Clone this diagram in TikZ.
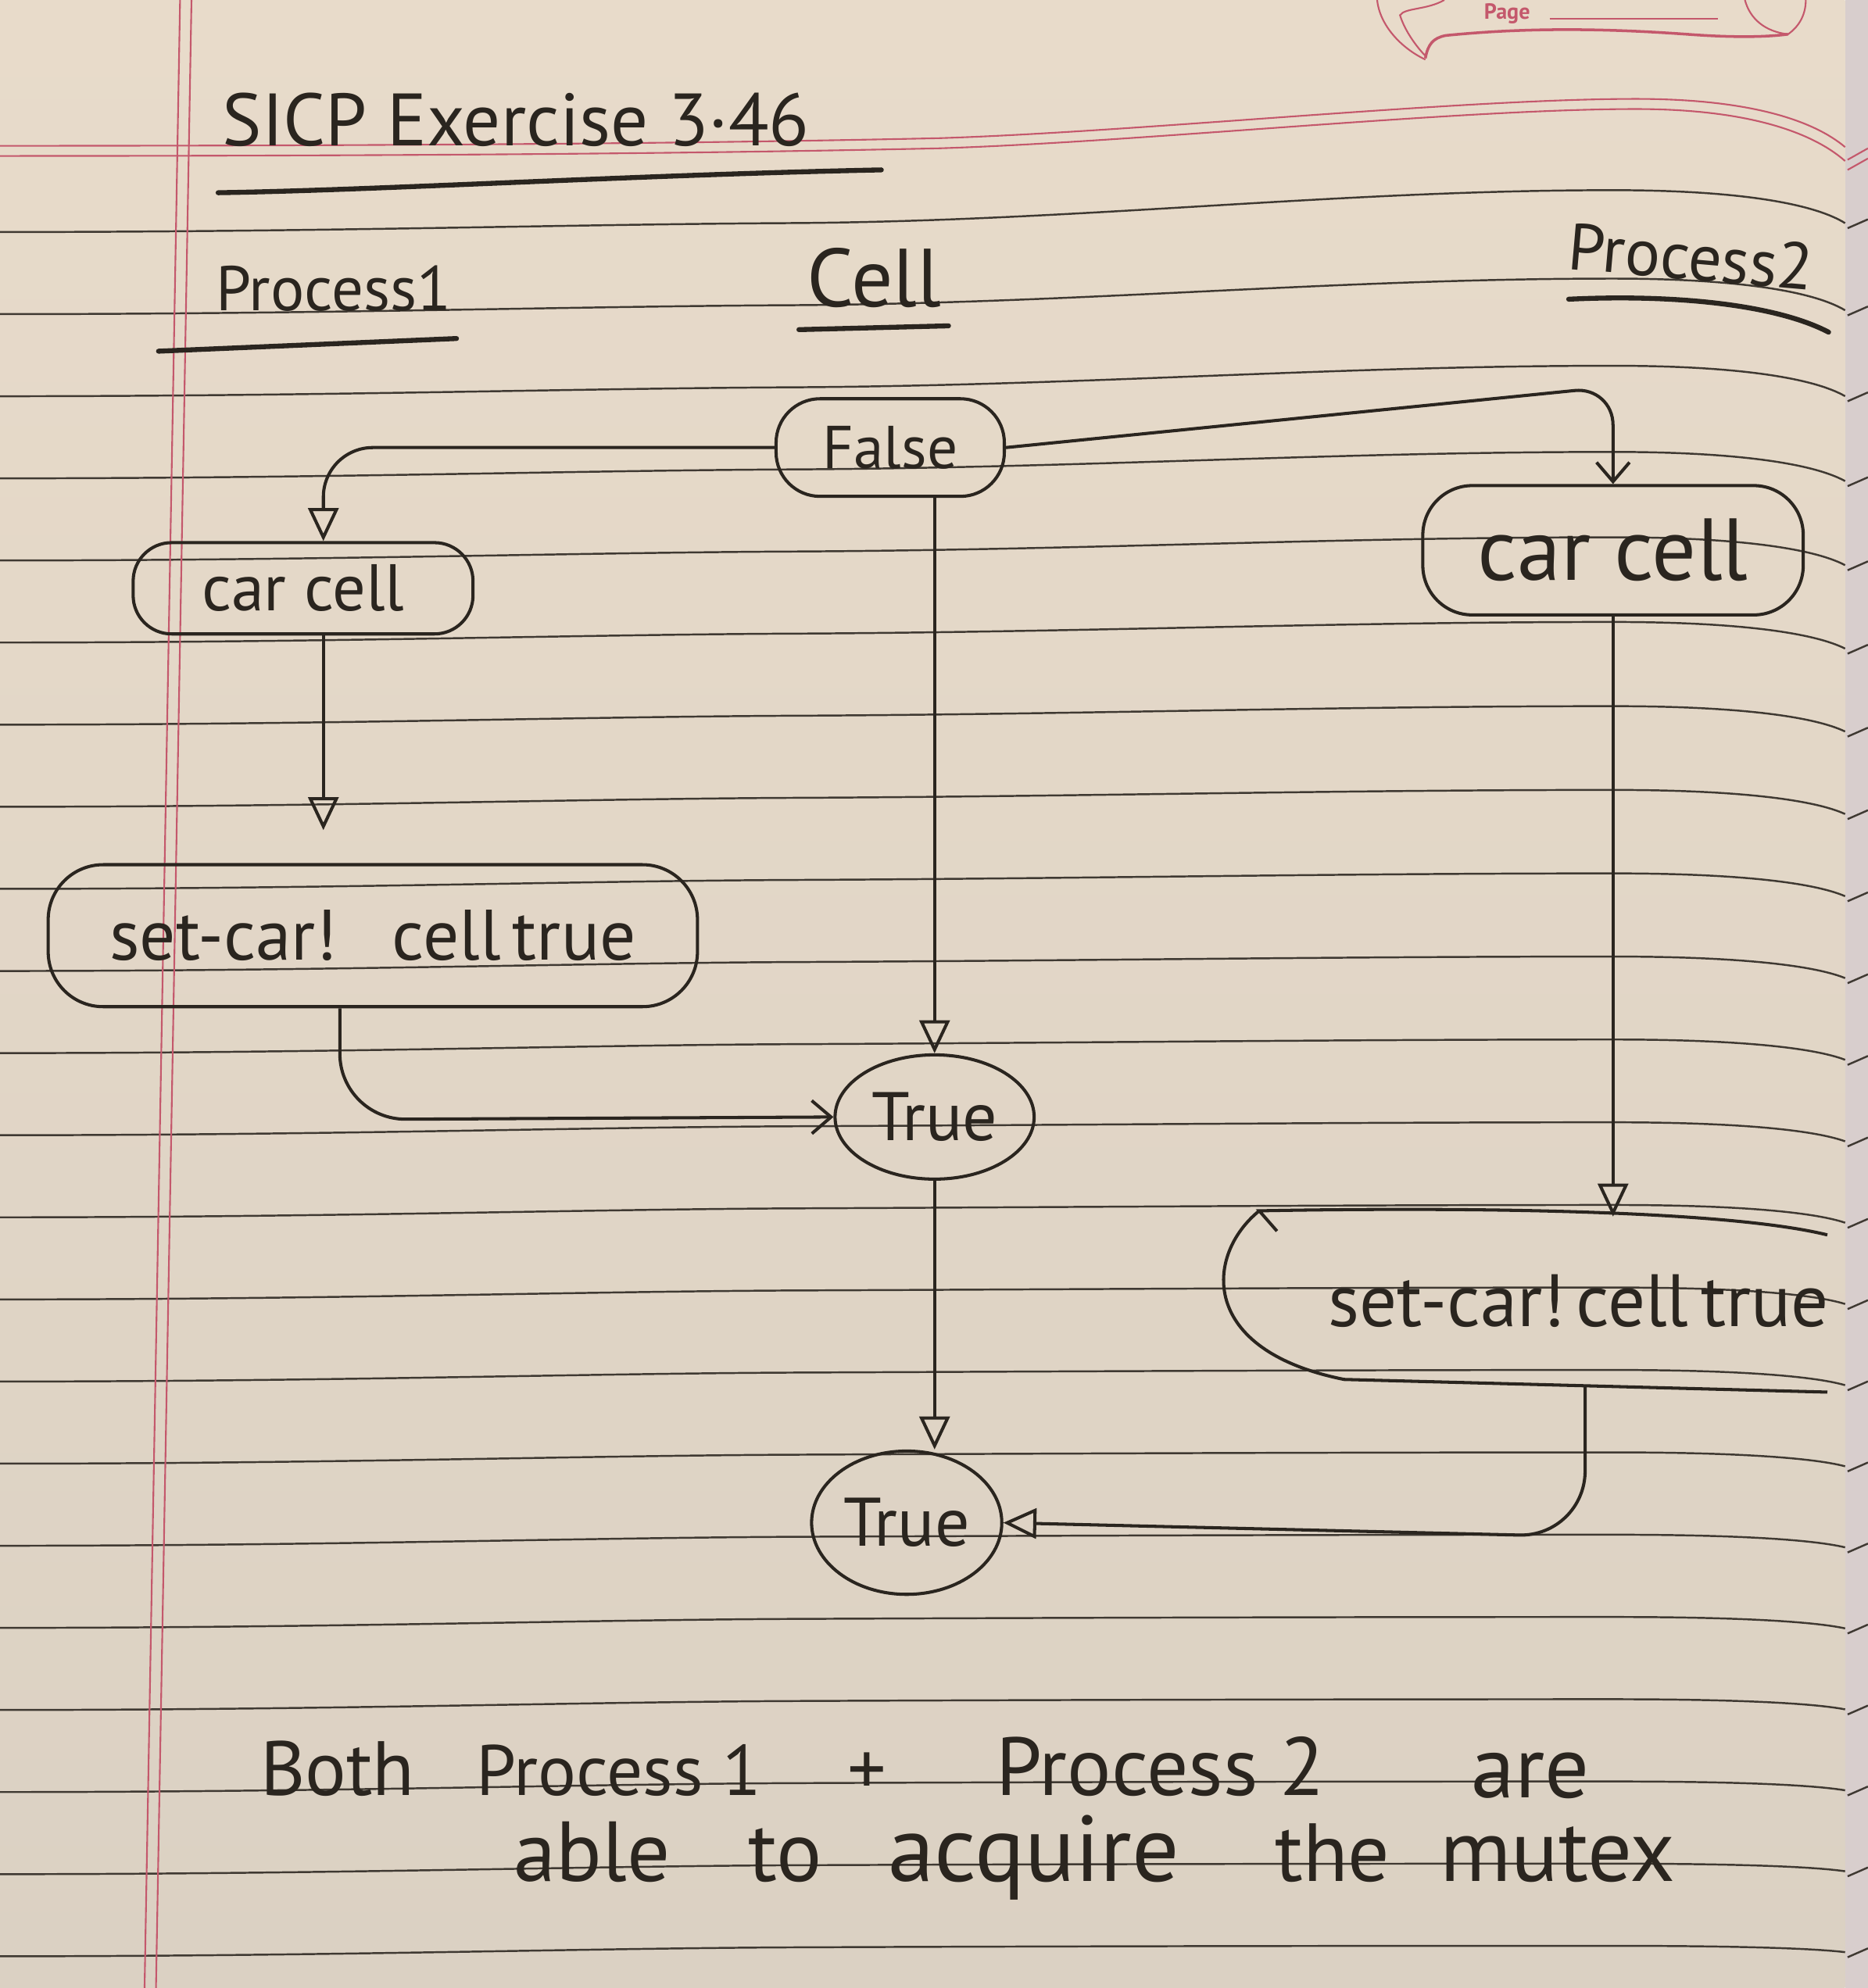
\documentclass[tikz,border=0pt]{standalone}
\usepackage{fontspec}
\setmainfont{PT Sans}
\usetikzlibrary{arrows.meta,shapes.geometric,calc}
\definecolor{paper}{HTML}{E8DBCA}
\definecolor{paperb}{HTML}{DBD1C3}
\definecolor{rulec}{HTML}{3F3932}
\definecolor{inkc}{HTML}{2A251F}
\definecolor{redl}{HTML}{C4586C}
\definecolor{edgec}{HTML}{D8CECD}
\newcommand{\pxu}{0.016225cm}
\newcommand{\fs}[1]{\fontsize{#1}{#1}\selectfont}
\begin{document}
\begin{tikzpicture}[x=0.016225cm, y=-0.016225cm,
  ink/.style={draw=inkc, line width=1.15pt},
  box/.style={ink, rectangle, inner sep=0pt, text=inkc},
  oval/.style={ink, ellipse, inner sep=0pt, text=inkc},
  lbl/.style={text=inkc, inner sep=0pt},
  arr/.style={ink, -{Triangle[open, length=12pt, width=11pt, line width=1.15pt]}},
  arrv/.style={ink, -{Straight Barb[length=7pt, width=12pt, line width=1.15pt]}},
  uline/.style={draw=inkc, line width=1.8pt, line cap=round},
  rl/.style={draw=rulec, line width=0.7pt},
  redrule/.style={draw=redl, line width=0.6pt},
]
\useasboundingbox (0,0) rectangle (1473,1568);
% paper
\shade[top color=paper, bottom color=paperb] (0,0) rectangle (1455,1568);
\fill[edgec] (1455,0) rectangle (1473,1568);
% ruled lines
\foreach \k in {0,...,21}{
  \pgfmathsetmacro{\ya}{183+64.76*\k}
  \pgfmathsetmacro{\yt}{8+25*exp(-\k/4.5)}
  \pgfmathsetmacro{\yd}{26-\k}
  \pgfmathsetmacro{\ym}{\ya-7}
  \pgfmathsetmacro{\yr}{\ya-\yt}
  \pgfmathsetmacro{\ye}{\ya-\yt+\yd}
  \pgfmathsetmacro{\yq}{\ya-\yt+0.4*\yd}
  \draw[rl] (0,\ya) .. controls (250,\ya) and (450,\ya-6) .. (616,\ym)
     .. controls (850,\ya-8) and (1050,\yr) .. (1272,\yr)
     .. controls (1370,\yr) and (1430,\yq) .. (1455,\ye);
  \draw[rl] (1457,\ye+4) -- (1473,\ye-3);
}
% red margin
\draw[redrule] (142,0) -- (114,1568);
\draw[redrule] (151,0) -- (123,1568);
\draw[redrule] (0,115) .. controls (400,115) and (600,112) .. (740,109) .. controls (900,104) and (1150,78) .. (1290,78) .. controls (1380,78) and (1430,95) .. (1455,116);
\draw[redrule] (0,123) .. controls (400,123) and (600,120) .. (740,117) .. controls (900,112) and (1150,86) .. (1290,86) .. controls (1380,86) and (1430,105) .. (1455,127);
\draw[redrule] (1457,126) -- (1473,117);
\draw[redrule] (1457,134) -- (1473,125);
% page banner
\draw[redrule] (1086,0) .. controls (1088,20) and (1105,38) .. (1124,47);
\draw[redrule] (1139,0) .. controls (1125,8) and (1108,6) .. (1104,12) .. controls (1108,25) and (1118,38) .. (1124,44);
\draw[redrule, line width=1pt] (1124,46) .. controls (1126,35) and (1130,30) .. (1140,28) .. controls (1200,22) and (1260,22) .. (1330,27) .. controls (1370,30) and (1395,29) .. (1410,27);
\draw[redrule] (1376,0) .. controls (1380,15) and (1392,25) .. (1410,27) .. controls (1420,20) and (1424,10) .. (1424,0);
\node[text=redl, font=\fs{8}\bfseries, anchor=base west, inner sep=0pt] (pagelbl) at (1170,15) {Page};
\draw[redrule] (1222,15) -- (1355,15);
% headings
\node[lbl, font=\fs{27}, anchor=base west] (title) at (175,115) {SICP Exercise 3·46};
\draw[uline] (172,152) .. controls (300,150) and (500,138) .. (695,134);
\node[lbl, font=\fs{23}, anchor=base west] (h1) at (170,245) {Process1};
\draw[uline] (125,277) -- (360,267);
\node[lbl, font=\fs{30}, anchor=base west] (h2) at (636,242) {Cell};
\draw[uline] (630,260) -- (748,257);
\node[lbl, font=\fs{24}, anchor=base west, rotate=-5] (h3) at (1235,212) {Process2};
\draw[uline] (1237,236) .. controls (1320,232) and (1400,240) .. (1442,262);
% nodes
\node[box, rounded corners=16pt, minimum width=180*\pxu, minimum height=77*\pxu, font=\fs{22}] (false) at (702,353) {False};
\node[box, rounded corners=14pt, minimum width=268*\pxu, minimum height=72*\pxu, font=\fs{24}] (p1car) at (239,464) {car cell};
\node[box, rounded corners=18pt, minimum width=300*\pxu, minimum height=102*\pxu, font=\fs{32}] (p2car) at (1272,434) {car cell};
\node[box, rounded corners=20pt, minimum width=512*\pxu, minimum height=112*\pxu, font=\fs{26}] (p1set) at (294,738) {set-car!\hspace{20pt}cell\,true};
\node[oval, minimum width=157*\pxu, minimum height=98*\pxu, font=\fs{25}] (true1) at (737,881) {True};
\node[lbl, minimum width=490*\pxu, minimum height=132*\pxu, font=\fs{27}] (p2set) at (1245,1026) {set-car!\hspace{4pt}cell\,true};
\node[oval, minimum width=150*\pxu, minimum height=113*\pxu, font=\fs{25}] (true2) at (715,1201) {True};
% open outline of second set-car! box
\draw[ink] (1007,971) -- (993,955) .. controls (1150,952) and (1360,954) .. (1441,974);
\draw[ink] (993,955) .. controls (950,990) and (945,1065) .. (1060,1088) -- (1441,1098);
% connectors
\coordinate (c1) at (255,353);
\coordinate (c2) at (1272,305);
\coordinate (c3) at (268,883);
\coordinate (c4) at (1250,1212);
\draw[arr, rounded corners=18pt] (false.west) -- (c1) -- (c1 |- p1car.north);
\draw[arrv, rounded corners=14pt] (false.east) -- (c2) -- (p2car.north);
\draw[arr] (false.south -| true1.north) -- (true1.north);
\draw[arr, shorten >=12pt] (c1 |- p1car.south) -- (c1 |- p1set.north);
\draw[arrv, rounded corners=24pt] (c3 |- p1set.south) -- (c3) -- (true1.west);
\draw[arr] (p2car.south) -- (p2car.south |- p2set.north);
\draw[arr] (true1.south) -- (true2.north -| true1.south);
\draw[arr, rounded corners=24pt] (c4 |- p2set.south) -- (c4) -- (true2.east);
% conclusion
\node[lbl, font=\fs{28}, anchor=base west] (b1) at (205,1416) {Both};
\node[lbl, font=\fs{26}, anchor=base west] (b2) at (375,1416) {Process 1};
\node[lbl, font=\fs{28}, anchor=base west] (b3) at (668,1416) {+};
\node[lbl, font=\fs{30}, anchor=base west] (b4) at (785,1416) {Process 2};
\node[lbl, font=\fs{32}, anchor=base west] (b5) at (1160,1418) {are};
\node[lbl, font=\fs{31}, anchor=base west] (b6) at (405,1484) {able};
\node[lbl, font=\fs{31}, anchor=base west] (b7) at (590,1484) {to};
\node[lbl, font=\fs{34}, anchor=base west] (b8) at (700,1484) {acquire};
\node[lbl, font=\fs{30}, anchor=base west] (b9) at (1005,1484) {the};
\node[lbl, font=\fs{32}, anchor=base west] (b10) at (1135,1484) {mutex};
\end{tikzpicture}
\end{document}
